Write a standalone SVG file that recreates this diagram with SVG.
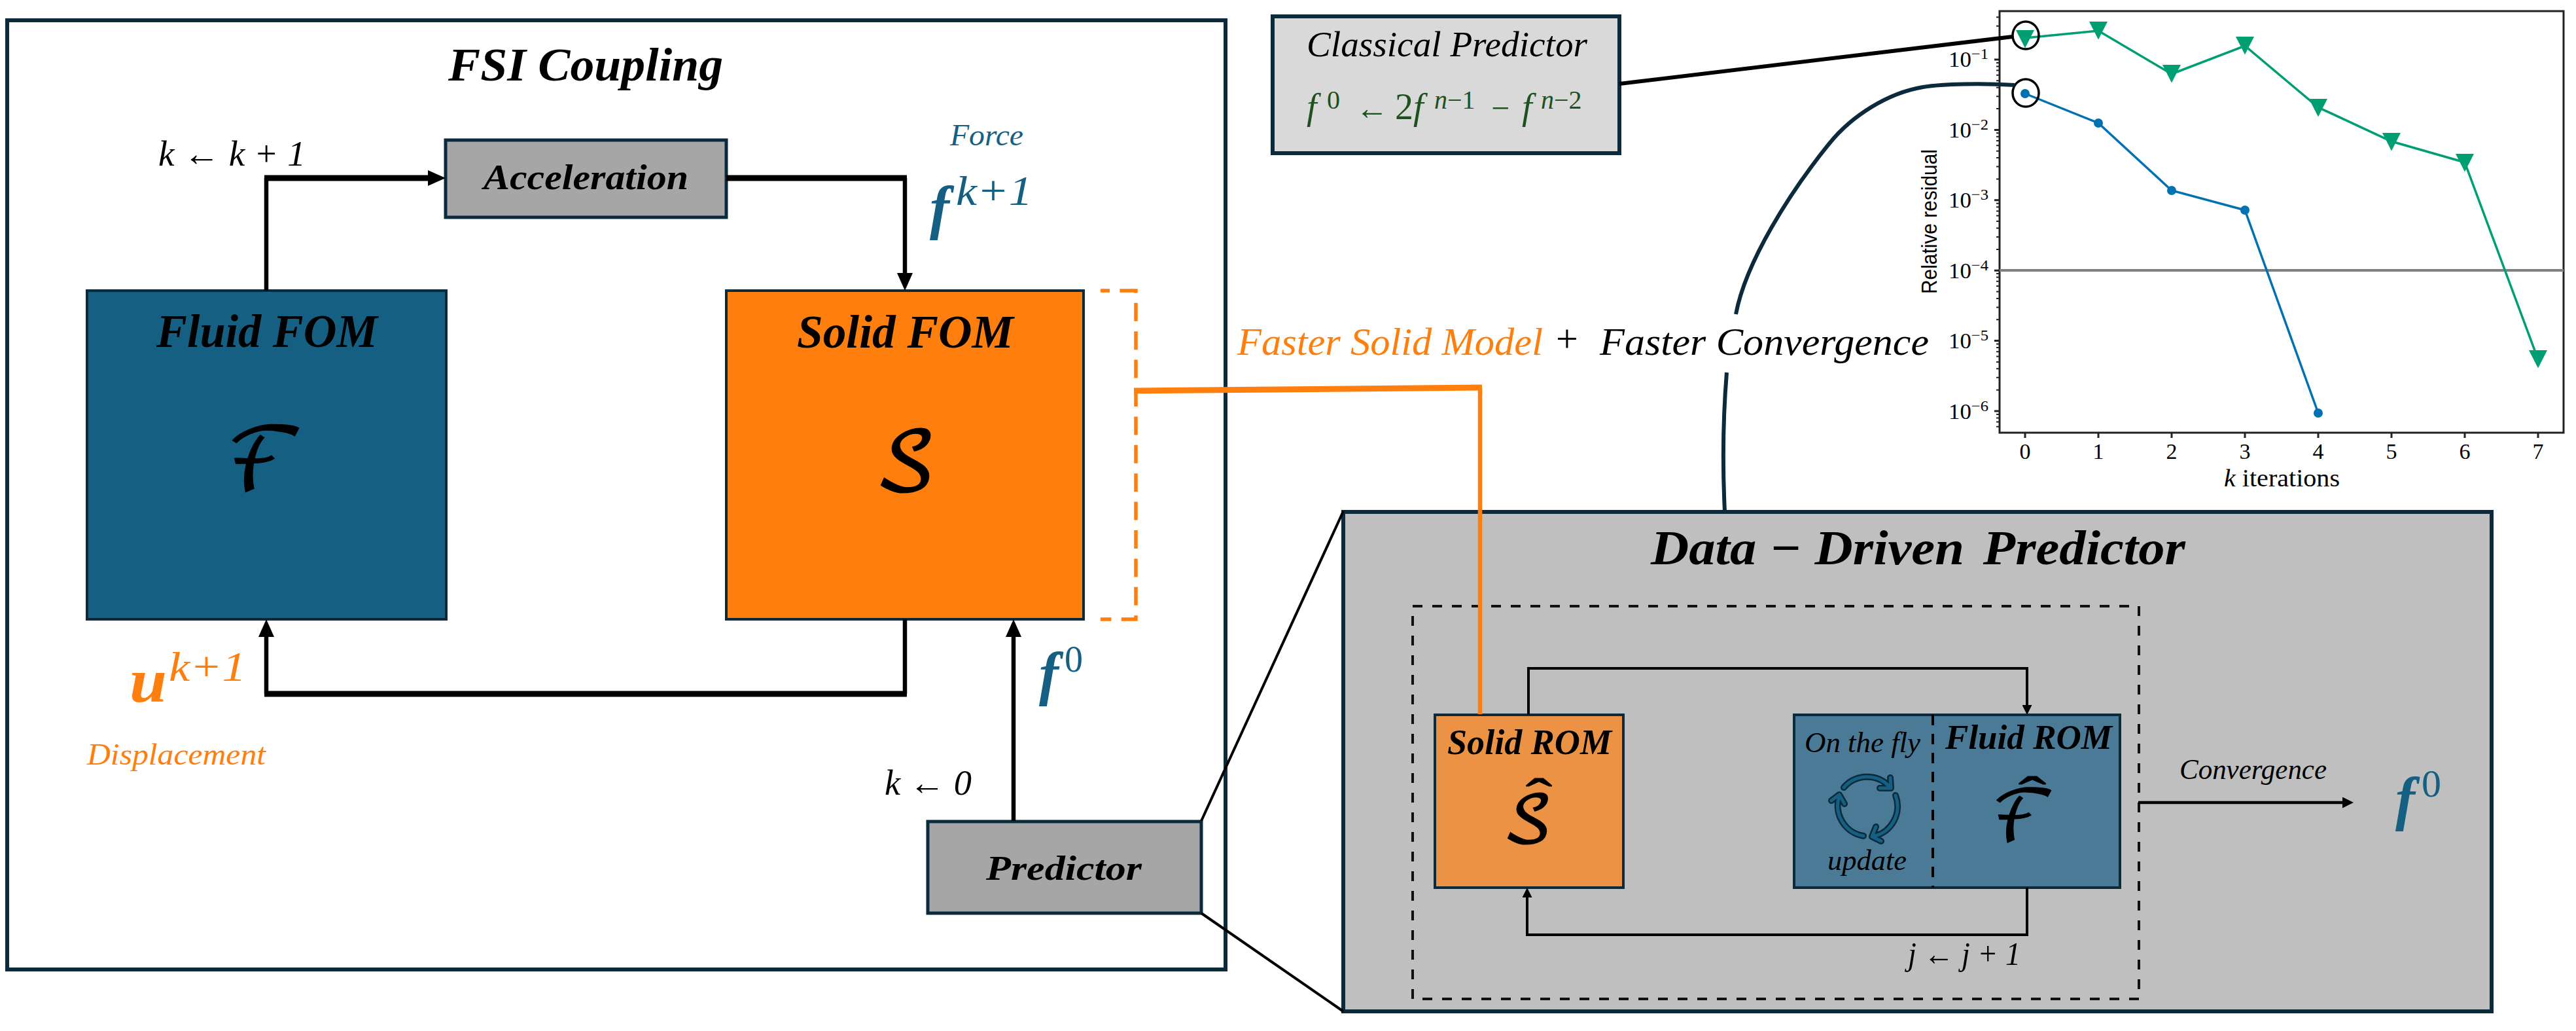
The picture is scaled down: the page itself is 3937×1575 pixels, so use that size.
<svg xmlns="http://www.w3.org/2000/svg" width="3937" height="1575" viewBox="0 0 3937 1575">
<style>
text{font-family:"Liberation Serif","DejaVu Serif",serif;fill:#000}
.i{font-style:italic}
.b{font-style:italic;font-weight:bold}
.m{font-family:"DejaVu Math TeX Gyre","DejaVu Sans",serif;stroke:#000;stroke-width:1.2}
.h{font-family:"Liberation Serif",serif}
.blue{fill:#156082}
.or{fill:#ff7f0e}
.gr{fill:#1d5220}
.box{stroke:#0b2a3b;stroke-width:5}
.ln{fill:none;stroke:#000}
.tl{font-size:34px;text-anchor:middle}
.yl{font-size:34px}
.ic{fill:none;stroke-linecap:round;stroke-linejoin:round}
</style>
<defs>
<marker id="big" markerUnits="userSpaceOnUse" markerWidth="27" markerHeight="24" refX="12" refY="12" orient="auto"><path d="M0,0L27,12L0,24z" fill="#000"/></marker>
<marker id="small" markerUnits="userSpaceOnUse" markerWidth="15" markerHeight="15" refX="7" refY="7.5" orient="auto"><path d="M0,0L15,7.5L0,15z" fill="#000"/></marker>
<marker id="conv" markerUnits="userSpaceOnUse" markerWidth="17" markerHeight="17" refX="8" refY="8.5" orient="auto"><path d="M0,0L17,8.5L0,17z" fill="#000"/></marker>
<polygon id="tri" points="-14,-14 14,-14 0,13.5" fill="#009e73"/>
<circle id="dot" r="7" fill="#0072b2"/>
</defs>
<rect width="3937" height="1575" fill="#fff"/>
<g id="fsi-coupling"><rect x="11" y="31" width="1862" height="1450" fill="#fff" stroke="#0b2a3b" stroke-width="6"/>
<text class="b" x="685" y="123" font-size="72" textLength="420" lengthAdjust="spacingAndGlyphs">FSI Coupling</text></g>
<g id="acceleration"><rect class="box" x="681" y="214" width="429" height="118" fill="#a6a6a6"/>
<text class="b" x="739" y="289" font-size="54" textLength="313" lengthAdjust="spacingAndGlyphs">Acceleration</text></g>
<g id="fluid-fom"><rect class="box" x="133" y="444" width="549" height="502" fill="#156082" style="stroke-width:4"/>
<text class="b" x="239" y="530" font-size="72" textLength="338" lengthAdjust="spacingAndGlyphs">Fluid FOM</text>
<text class="m" x="406" y="749" font-size="132" text-anchor="middle">ℱ</text></g>
<g id="solid-fom"><rect class="box" x="1110" y="444" width="546" height="502" fill="#fe7e0e" style="stroke-width:4"/>
<text class="b" x="1218" y="531" font-size="72" textLength="331" lengthAdjust="spacingAndGlyphs">Solid FOM</text>
<text class="m" x="1384" y="749" font-size="124" text-anchor="middle">𝒮</text></g>
<g id="predictor"><rect class="box" x="1418" y="1255" width="418" height="140" fill="#a6a6a6"/>
<text class="b" x="1507" y="1344" font-size="52" textLength="238" lengthAdjust="spacingAndGlyphs">Predictor</text></g>
<g id="classical-predictor"><rect x="1945" y="25" width="530" height="209" fill="#d9d9d9" stroke="#0b2a3b" stroke-width="6"/>
<text class="i" x="1997" y="86" font-size="54" textLength="429" lengthAdjust="spacingAndGlyphs">Classical Predictor</text>
<text class="i gr" font-size="56"><tspan x="1997" y="182">f</tspan><tspan x="2028" y="166" font-size="40" font-style="normal">0</tspan><tspan x="2072" y="182" font-style="normal" font-size="50">←</tspan><tspan x="2132" y="182" font-style="normal">2</tspan><tspan x="2160" y="182">f</tspan><tspan x="2192" y="166" font-size="40">n</tspan><tspan font-size="40" font-style="normal" y="166">−1</tspan><tspan x="2279" y="182" font-style="normal" font-size="50">−</tspan><tspan x="2326" y="182">f</tspan><tspan x="2355" y="166" font-size="40">n</tspan><tspan font-size="40" font-style="normal" y="166">−2</tspan></text></g>
<g id="data-driven-predictor"><rect x="2053" y="782" width="1755" height="763" fill="#bfbfbf" stroke="#0b2a3b" stroke-width="6"/>
<text class="b" x="2523" y="862" font-size="74" textLength="817" lengthAdjust="spacingAndGlyphs">Data − Driven <tspan dx="8">Predictor</tspan></text>
<rect x="2159" y="926" width="1110" height="600" fill="none" stroke="#111" stroke-width="4" stroke-dasharray="15 15"/></g>
<g id="solid-rom"><rect class="box" x="2193" y="1092" width="288" height="264" fill="#ec9245" style="stroke-width:4"/>
<text class="b" x="2212" y="1152" font-size="54" textLength="251" lengthAdjust="spacingAndGlyphs">Solid ROM</text>
<text class="m" x="2335" y="1287" font-size="100" text-anchor="middle">𝒮<tspan class="h" x="2352" y="1245" font-size="80" textLength="40" lengthAdjust="spacingAndGlyphs">ˆ</tspan></text></g>
<g id="fluid-rom"><rect class="box" x="2742" y="1092" width="498" height="264" fill="#4a7a96" style="stroke-width:4"/>
<line x1="2954" y1="1092" x2="2954" y2="1356" stroke="#000" stroke-width="4" stroke-dasharray="16 13"/>
<text class="b" x="2973" y="1144" font-size="53" textLength="255" lengthAdjust="spacingAndGlyphs">Fluid ROM</text>
<text class="i" x="2758" y="1149" font-size="44" textLength="177" lengthAdjust="spacingAndGlyphs">On the fly</text>
<text class="i" x="2793" y="1329" font-size="44" textLength="121" lengthAdjust="spacingAndGlyphs">update</text>
<text class="m" x="3093" y="1285" font-size="108" text-anchor="middle">ℱ<tspan class="h" x="3106" y="1242" font-size="80" textLength="42" lengthAdjust="spacingAndGlyphs">ˆ</tspan></text>
<g id="update-cycle">
<path class="ic" stroke="#0b2a3b" stroke-width="10" d="M2818,1203A47,47 0 0 1 2888,1202M2889,1188L2890,1204L2873,1204M2897,1215A47,47 0 0 1 2862,1278M2867,1263L2861,1278L2875,1285M2848,1277A47,47 0 0 1 2811,1216M2799,1223L2811,1214L2819,1228"/>
<path class="ic" stroke="#156082" stroke-width="5" d="M2818,1203A47,47 0 0 1 2888,1202M2889,1188L2890,1204L2873,1204M2897,1215A47,47 0 0 1 2862,1278M2867,1263L2861,1278L2875,1285M2848,1277A47,47 0 0 1 2811,1216M2799,1223L2811,1214L2819,1228"/>
</g></g>
<g id="plot">
<g stroke="#222" fill="none">
<rect x="3056" y="17" width="862" height="644" stroke-width="3"/>
<path stroke-width="3" d="M3048,91H3056M3048,198.4H3056M3048,305.8H3056M3048,413.2H3056M3048,520.6H3056M3048,628H3056M3095,661V669M3207,661V669M3319,661V669M3431,661V669M3543,661V669M3655,661V669M3767,661V669M3879,661V669"/>
<path stroke-width="2" d="M3051,58.7h5M3051,39.8h5M3051,26.3h5M3051,166.1h5M3051,147.2h5M3051,133.7h5M3051,123.3h5M3051,114.8h5M3051,107.6h5M3051,101.4h5M3051,95.9h5M3051,273.5h5M3051,254.6h5M3051,241.1h5M3051,230.7h5M3051,222.2h5M3051,215h5M3051,208.8h5M3051,203.3h5M3051,380.9h5M3051,362h5M3051,348.5h5M3051,338.1h5M3051,329.6h5M3051,322.4h5M3051,316.2h5M3051,310.7h5M3051,488.3h5M3051,469.4h5M3051,455.9h5M3051,445.5h5M3051,437h5M3051,429.8h5M3051,423.6h5M3051,418.1h5M3051,595.7h5M3051,576.8h5M3051,563.3h5M3051,552.9h5M3051,544.4h5M3051,537.2h5M3051,531h5M3051,525.5h5M3051,651.8h5M3051,644.6h5M3051,638.4h5M3051,632.9h5"/>
</g>
<line x1="3056" y1="413" x2="3918" y2="413" stroke="#808080" stroke-width="4"/>
<polyline fill="none" stroke="#009e73" stroke-width="3.5" points="3095,58 3207,47 3319,113 3431,70 3543,164 3655,216 3767,248 3879,549"/>
<polyline fill="none" stroke="#0072b2" stroke-width="3.5" points="3095,143 3207,188 3319,291 3431,321 3543,631"/>
<use href="#tri" x="3095" y="60"/><use href="#tri" x="3207" y="47"/><use href="#tri" x="3319" y="113"/><use href="#tri" x="3431" y="70"/><use href="#tri" x="3543" y="165"/><use href="#tri" x="3655" y="217"/><use href="#tri" x="3767" y="249"/><use href="#tri" x="3879" y="549"/>
<use href="#dot" x="3095" y="143"/><use href="#dot" x="3207" y="188"/><use href="#dot" x="3319" y="291"/><use href="#dot" x="3431" y="321"/><use href="#dot" x="3543" y="631"/>
<g fill="none" stroke="#000" stroke-width="3.5"><ellipse cx="3096" cy="54" rx="20" ry="21"/><ellipse cx="3096" cy="142" rx="20" ry="21"/></g>
<text class="yl" x="2978" y="102" textLength="61" lengthAdjust="spacingAndGlyphs">10<tspan font-size="24" dy="-12">−1</tspan></text>
<text class="yl" x="2978" y="210" textLength="61" lengthAdjust="spacingAndGlyphs">10<tspan font-size="24" dy="-12">−2</tspan></text>
<text class="yl" x="2978" y="317" textLength="61" lengthAdjust="spacingAndGlyphs">10<tspan font-size="24" dy="-12">−3</tspan></text>
<text class="yl" x="2978" y="425" textLength="61" lengthAdjust="spacingAndGlyphs">10<tspan font-size="24" dy="-12">−4</tspan></text>
<text class="yl" x="2978" y="532" textLength="61" lengthAdjust="spacingAndGlyphs">10<tspan font-size="24" dy="-12">−5</tspan></text>
<text class="yl" x="2978" y="640" textLength="61" lengthAdjust="spacingAndGlyphs">10<tspan font-size="24" dy="-12">−6</tspan></text>
<text class="tl" x="3095" y="701">0</text><text class="tl" x="3207" y="701">1</text><text class="tl" x="3319" y="701">2</text><text class="tl" x="3431" y="701">3</text><text class="tl" x="3543" y="701">4</text><text class="tl" x="3655" y="701">5</text><text class="tl" x="3767" y="701">6</text><text class="tl" x="3879" y="701">7</text>
<text x="3399" y="743" font-size="38" textLength="177" lengthAdjust="spacingAndGlyphs"><tspan class="i">k</tspan> iterations</text>
<text transform="translate(2960,449) rotate(-90)" font-size="34" textLength="221" lengthAdjust="spacingAndGlyphs" style="font-family:'Liberation Sans',sans-serif">Relative residual</text>
</g>
<g id="connectors">
<path class="ln" stroke-width="6.5" d="M407,444V272"/>
<path class="ln" stroke-width="9" marker-end="url(#big)" d="M404,272H666"/>
<path class="ln" stroke-width="9" d="M1110,272H1386"/>
<path class="ln" stroke-width="6.5" marker-end="url(#big)" d="M1383,272V429"/>
<path class="ln" stroke-width="6.5" d="M1383,946V1060"/>
<path class="ln" stroke-width="9" d="M1386,1060H404"/>
<path class="ln" stroke-width="6.5" marker-end="url(#big)" d="M407,1060V961"/>
<path class="ln" stroke-width="6.5" marker-end="url(#big)" d="M1549,1254V961"/>
<path fill="none" stroke="#ff7f0e" stroke-width="5.5" stroke-dasharray="28 15.4" stroke-dashoffset="14" d="M1682,444H1736V946H1682"/>
<path fill="none" stroke="#ff7f0e" stroke-width="9" d="M1733,597L2265,592"/>
<path fill="none" stroke="#ff7f0e" stroke-width="6.5" d="M2262,592V1091"/>
<path class="ln" stroke-width="4" d="M1836,1254L2053,781M1836,1395L2053,1545"/>
<path class="ln" stroke-width="6" d="M2475,128L3076,56"/>
<path fill="none" stroke="#0b2a3b" stroke-width="6" d="M2636,781C2632,700 2634,630 2639,569"/>
<path fill="none" stroke="#0b2a3b" stroke-width="6" d="M2653,480C2668,400 2736,293 2796,219C2830,177 2885,142 2939,133C2970,128 3030,127 3079,130"/>
<path class="ln" stroke-width="4" marker-end="url(#small)" d="M2336,1092V1021H3098V1084"/>
<path class="ln" stroke-width="4" marker-end="url(#small)" d="M3098,1356V1428H2334V1364"/>
<path class="ln" stroke-width="4.5" marker-end="url(#conv)" d="M3268,1226H3588"/>
</g>
<g id="labels">
<text class="i" x="242" y="253" font-size="54" textLength="225" lengthAdjust="spacingAndGlyphs">k ← k + 1</text>
<text class="i blue" x="1452" y="222" font-size="46" textLength="112" lengthAdjust="spacingAndGlyphs">Force</text>
<text class="b blue" x="1421" y="348" font-size="90">f</text>
<text class="i blue" x="1461" y="313" font-size="64" textLength="117" lengthAdjust="spacingAndGlyphs">k+1</text>
<text class="b or" x="198" y="1072" font-size="96" textLength="57" lengthAdjust="spacingAndGlyphs">u</text>
<text class="i or" x="258" y="1040" font-size="64" textLength="118" lengthAdjust="spacingAndGlyphs">k+1</text>
<text class="i or" x="133" y="1168" font-size="46" textLength="273" lengthAdjust="spacingAndGlyphs">Displacement</text>
<text class="b blue" x="1588" y="1060" font-size="90">f</text>
<text class="blue" x="1627" y="1026" font-size="56">0</text>
<text class="i" x="1352" y="1214" font-size="54" textLength="133" lengthAdjust="spacingAndGlyphs">k ← 0</text>
<text class="i or" x="1891" y="542" font-size="60" textLength="467" lengthAdjust="spacingAndGlyphs">Faster Solid Model</text>
<text x="2378" y="537" font-size="60">+</text>
<text class="i" x="2445" y="542" font-size="60" textLength="503" lengthAdjust="spacingAndGlyphs">Faster Convergence</text>
<text class="i" x="2916" y="1474" font-size="50" textLength="172" lengthAdjust="spacingAndGlyphs">j ← j + 1</text>
<text class="i" x="3331" y="1190" font-size="44" textLength="225" lengthAdjust="spacingAndGlyphs">Convergence</text>
<text class="b blue" x="3661" y="1251" font-size="90">f</text>
<text class="blue" x="3701" y="1217" font-size="60">0</text>
</g>
</svg>
